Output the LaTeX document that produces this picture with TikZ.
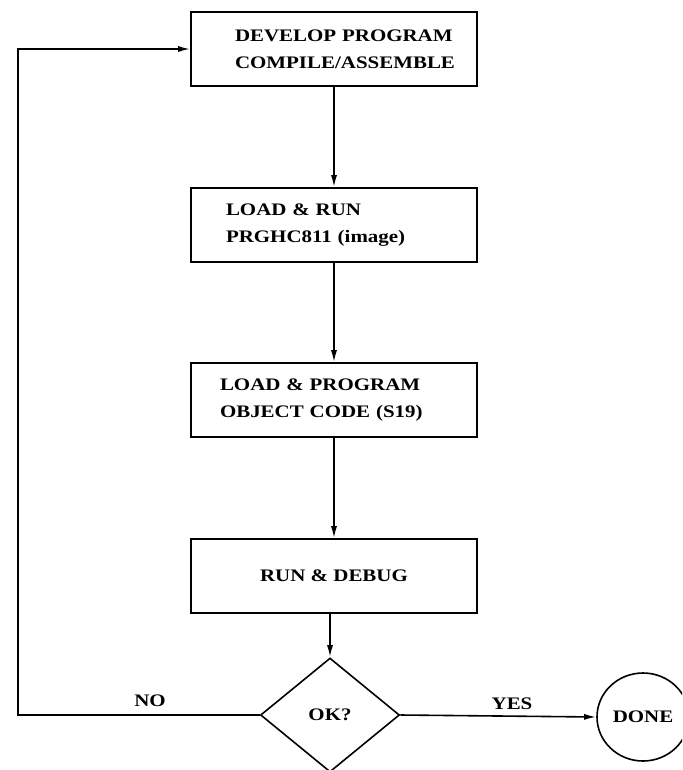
\documentclass[tikz,border=0pt]{standalone}
\usepackage{fontspec}
\setmainfont{Liberation Serif}[FakeStretch=1.19]
\usetikzlibrary{shapes.geometric,arrows.meta}
\begin{document}
\begin{tikzpicture}[x=1pt,y=-1pt,
  line width=1.6pt,
  every node/.style={font=\fontsize{17.6}{27}\selectfont\bfseries},
  stepbox/.style={draw, rectangle, minimum height=74pt, align=left},
  arr/.style={-{Latex[length=12pt,width=6pt]}},
]
\useasboundingbox (0,0) rectangle (682,770);
\clip (0,0) rectangle (682,770);

% process steps
\node[stepbox, inner xsep=44pt, text width=198pt] (dev) at (334,49)
  {\mbox{DEVELOP PROGRAM}\\\mbox{COMPILE/ASSEMBLE}};
\node[stepbox, inner xsep=35pt, text width=216pt] (run) at (334,225)
  {\mbox{LOAD \& RUN}\\\mbox{PRGHC811 (image)}};
\node[stepbox, inner xsep=29pt, text width=228pt] (prog) at (334,400)
  {\mbox{LOAD \& PROGRAM}\\\mbox{OBJECT CODE (S19)}};
\node[stepbox, minimum width=286pt, align=center] (dbg) at (334,576)
  {RUN \& DEBUG};

% decision and end
\node[diamond, draw, minimum width=139pt, minimum height=114pt, inner sep=0pt] (ok) at (330,715) {OK?};
\node[ellipse, draw, minimum width=92pt, minimum height=88pt, inner sep=0pt] (done) at (643,717) {DONE};

% labels
\node (yes) at (512,704) {YES};
\node (no) at (150,701) {NO};

% connectors
\draw[arr] (dev.south) -- (run.north);
\draw[arr] (run.south) -- (prog.north);
\draw[arr] (prog.south) -- (dbg.north);
\draw[arr] (dbg.south -| ok.north) -- (ok.north);
\draw[arr] (ok.east) -- (done.west);
\coordinate (lc) at (18,715);
\draw[arr] (ok.west) -- (ok.west -| lc) |- (dev.west);
\end{tikzpicture}
\end{document}
